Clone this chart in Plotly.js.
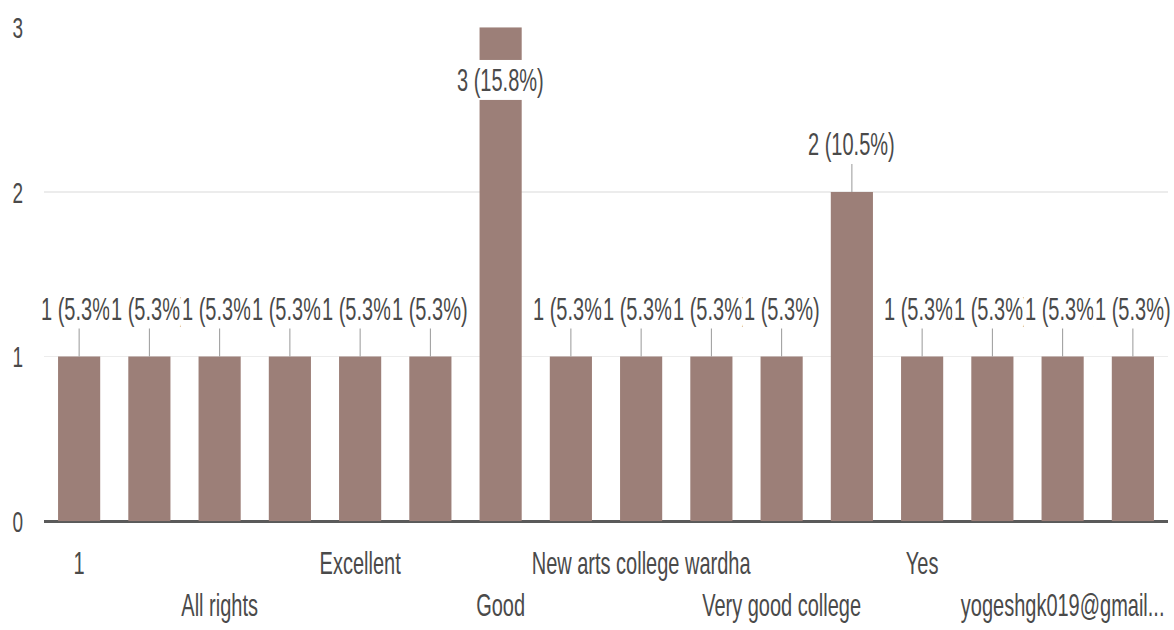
<!DOCTYPE html>
<html>
<head>
<meta charset="utf-8">
<script src="https://cdn.plot.ly/plotly-3.0.1.min.js"></script>
<style>
  html, body { margin: 0; padding: 0; background: #fff; overflow: hidden; }
  #wrap { width: 1174px; height: 630px; overflow: hidden; }
  #chart { width: 1174px; height: 394px; transform: scale(1, 1.599); transform-origin: 0 0; }
</style>
</head>
<body>
<div id="wrap"><div id="chart"></div></div>
<script>
// Response categories (only every other one has a visible tick label in the reference)
const categories = [
  "1", "(response 2)", "All rights", "(response 4)", "Excellent", "(response 6)",
  "Good", "(response 8)", "New arts college wardha", "(response 10)",
  "Very good college", "(response 12)", "Yes", "(response 14)",
  "yogeshgk019@gmail...", "(response 16)"
];
const counts = [1, 1, 1, 1, 1, 1, 3, 1, 1, 1, 1, 2, 1, 1, 1, 1];
const percents = ["5.3%", "5.3%", "5.3%", "5.3%", "5.3%", "5.3%", "15.8%", "5.3%",
                  "5.3%", "5.3%", "5.3%", "10.5%", "5.3%", "5.3%", "5.3%", "5.3%"];
const tickCategories = ["1", "All rights", "Excellent", "Good", "New arts college wardha",
                        "Very good college", "Yes", "yogeshgk019@gmail..."];
const yTicks = [0, 1, 2, 3];

const FONT = "Arial, 'Liberation Sans', sans-serif";
const maxCount = Math.max(...counts);

const tickText = tickCategories.map((t, i) => (i % 2 === 0 ? t : "<br>" + t));

// annotations use the category index (category "1" would otherwise be read as index 1)
const annotations = categories.map((c, i) => {
  const label = counts[i] + " (" + percents[i] + ")";
  if (counts[i] === maxCount) {
    return {
      x: i, y: counts[i], xref: "x", yref: "y", text: label,
      showarrow: false, yshift: -33, yanchor: "middle",
      bgcolor: "#ffffff", borderpad: 1,
      font: { family: FONT, size: 20, color: "#4a4a4a" }
    };
  }
  return {
    x: i, y: counts[i], xref: "x", yref: "y", text: label,
    showarrow: true, arrowhead: 0, arrowwidth: 1, arrowcolor: "#999999",
    ax: 0, ay: -30, standoff: 0,
    bgcolor: "#ffffff", borderpad: 1,
    font: { family: FONT, size: 20, color: "#4a4a4a" }
  };
});

const trace = {
  type: "bar",
  x: categories,
  y: counts,
  marker: { color: "#9c7f78" },
  hoverinfo: "x+y"
};

const layout = {
  width: 1174,
  height: 394,
  margin: { l: 44, r: 6, t: 17, b: 68 },
  paper_bgcolor: "#ffffff",
  plot_bgcolor: "#ffffff",
  bargap: 0.4,
  showlegend: false,
  font: { family: FONT, size: 20, color: "#4a4a4a" },
  xaxis: {
    type: "category",
    categoryorder: "array",
    categoryarray: categories,
    range: [-0.5, categories.length - 0.5],
    autorange: false,
    tickmode: "array",
    tickvals: tickCategories,
    ticktext: tickText,
    tickangle: 0,
    ticks: "",
    showgrid: false,
    showline: false,
    zeroline: false,
    automargin: false,
    ticklabelstandoff: 12,
    tickfont: { family: FONT, size: 20, color: "#4a4a4a" }
  },
  yaxis: {
    range: [0, maxCount],
    autorange: false,
    tickmode: "array",
    tickvals: yTicks,
    ticktext: yTicks.map(String),
    ticks: "",
    showgrid: true,
    gridcolor: "#ececec",
    gridwidth: 1,
    zeroline: true,
    zerolinecolor: "#5a5a5a",
    zerolinewidth: 1.8,
    showline: false,
    automargin: false,
    ticklabelstandoff: 20,
    tickfont: { family: FONT, size: 19, color: "#4a4a4a" }
  },
  annotations: annotations
};

Plotly.newPlot("chart", [trace], layout, { displayModeBar: false, staticPlot: true });
</script>
</body>
</html>
